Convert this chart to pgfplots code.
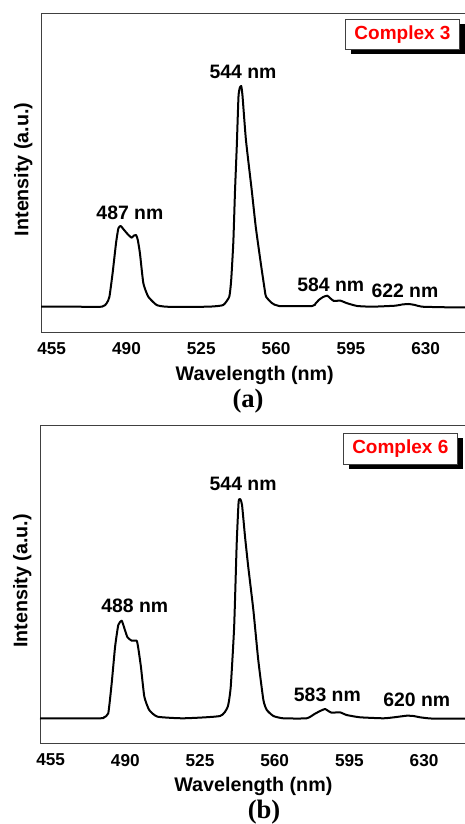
\documentclass[border=0pt]{standalone}
\usepackage{fontspec}
\setmainfont{Liberation Sans}
\newfontfamily\timesf{Liberation Serif}
\usepackage{pgfplots}
\pgfplotsset{compat=1.18}
\pgfplotstableread{
x y
450 25.3
465 25.3
478.5 25.3
480.7 28.7
482 35
483.5 58.7
485.1 88.7
486.2 103.7
487.3 106
488.5 103
490.5 98
492.4 94.3
493.5 96.5
494.5 97
495.3 92
496.3 78.7
497.9 48.7
500.2 35.3
504.1 27
508.5 25.3
520 25
530 25.5
535.3 27
538.1 35.3
539 52
540 90
540.8 142
541.6 185
542.4 235
543 244
543.7 246
544.3 236
545.9 192
548.6 142
550.5 105
552.9 68
554.7 42
555.3 35.3
558 29
561.4 26
576.9 26
578.5 28.5
580 32
582 35
584 36.3
585.5 33.5
587 31
588.5 31.2
590.2 31.3
593.3 28.7
598 26
605 25.3
615.8 26.3
619 27.5
622 28
625 27
628.3 25.3
640 24.7
650 24.7
}\dataA
\pgfplotstableread{
x y
450 25
478.1 25
480 26
482 30
483.6 60
485.2 96.6
486.7 118.3
488.3 122.6
489.8 113.3
491 106
493 102.6
495.3 102.6
496 96
497.3 76.6
498.9 46.6
501.2 33.3
505.1 26.6
517.2 25
534.4 27.3
538 36.6
539.4 56.6
541 116.6
542.2 200
543.1 241.6
543.9 244
544.7 238.3
546.1 206.6
547.6 176.6
550 133.3
552.3 83.3
554.7 43.3
556.3 33.3
559.4 27.3
564 25
575 25
578.9 29.6
581.5 32.5
583.6 34.3
585 32.5
586.7 30.6
590.6 31
593.7 28.3
600 26
610.9 25
616 26
621.9 27.6
625 27.3
628.1 26
634 24.7
650 24.7
}\dataB
\pgfplotsset{
  myax/.style={
    scale only axis,
    anchor=south west,
    xmin=450, xmax=650, ymin=0,
    xtick={455,490,525,560,595,630},
    ytick=\empty,
    major tick length=0pt,
    tick style={draw=none},
    axis line style={black!75, line width=0.9pt},
    /pgf/number format/assume math mode=true,
    /pgf/number format/set thousands separator={},
    xticklabel style={font=\bfseries\fontsize{17.2}{17}\selectfont, yshift=-7.3pt},
    xlabel={Wavelength (nm)},
    ylabel={Intensity (a.u.)},
    label style={font=\bfseries\fontsize{19.7}{20}\selectfont},
    clip=false,
  },
}
\tikzset{
  curve/.style={black, line width=2pt, line join=round, smooth, tension=0.3},
  ann/.style={font=\bfseries\fontsize{19.4}{20}\selectfont, inner sep=0pt, anchor=center},
}
\begin{document}
\begin{tikzpicture}
\useasboundingbox (0,0) rectangle (465pt,824pt);
% ---------- (a) ----------
\begin{axis}[myax,
  at={(41pt,492pt)}, width=427.4pt, height=319pt, ymax=319,
  xlabel style={at={(axis description cs:0.5,-0.1505)}, anchor=base},
  ylabel style={at={(axis description cs:-0.0297,0.51)}, anchor=base},
]
\addplot[curve, no marks] table[x=x,y=y] {\dataA};
\node[ann] at (axis cs:544.5,260.3) {544 nm};
\node[ann] at (axis cs:491.6,119.3) {487 nm};
\node[ann] at (axis cs:585.6,47) {584 nm};
\node[ann] at (axis cs:620.3,41.3) {622 nm};
\node[fill=black, minimum width=113.6pt, minimum height=30.3pt, inner sep=0pt, xshift=5.5pt, yshift=-5pt] at (axis description cs:0.8458,0.9335) {};
\node[fill=white, draw=black!75, line width=0.8pt, minimum width=113.6pt, minimum height=30.3pt, inner sep=0pt, text=red, font=\bfseries\fontsize{19}{20}\selectfont] at (axis description cs:0.8458,0.9335) {Complex 3};
\node[font=\timesf\bfseries\fontsize{26.6}{27}\selectfont, anchor=base] at (axis description cs:0.4844,-0.238) {(a)};
\end{axis}
% ---------- (b) ----------
\begin{axis}[myax,
  at={(40pt,80.7pt)}, width=426.7pt, height=318pt, ymax=318,
  xlabel style={at={(axis description cs:0.5,-0.1509)}, anchor=base},
  ylabel style={at={(axis description cs:-0.0297,0.51)}, anchor=base},
]
\addplot[curve, no marks] table[x=x,y=y] {\dataB};
\node[ann] at (axis cs:545.2,259.1) {544 nm};
\node[ann] at (axis cs:494.4,137.8) {488 nm};
\node[ann] at (axis cs:584.7,48.3) {583 nm};
\node[ann] at (axis cs:626.6,43.6) {620 nm};
\node[fill=black, minimum width=114pt, minimum height=30.7pt, inner sep=0pt, xshift=6pt, yshift=-5pt] at (axis description cs:0.8444,0.9264) {};
\node[fill=white, draw=black!75, line width=0.8pt, minimum width=114pt, minimum height=30.7pt, inner sep=0pt, text=red, font=\bfseries\fontsize{19}{20}\selectfont] at (axis description cs:0.8444,0.9264) {Complex 6};
\node[font=\timesf\bfseries\fontsize{26.6}{27}\selectfont, anchor=base] at (axis description cs:0.525,-0.235) {(b)};
\end{axis}
\end{tikzpicture}
\end{document}
